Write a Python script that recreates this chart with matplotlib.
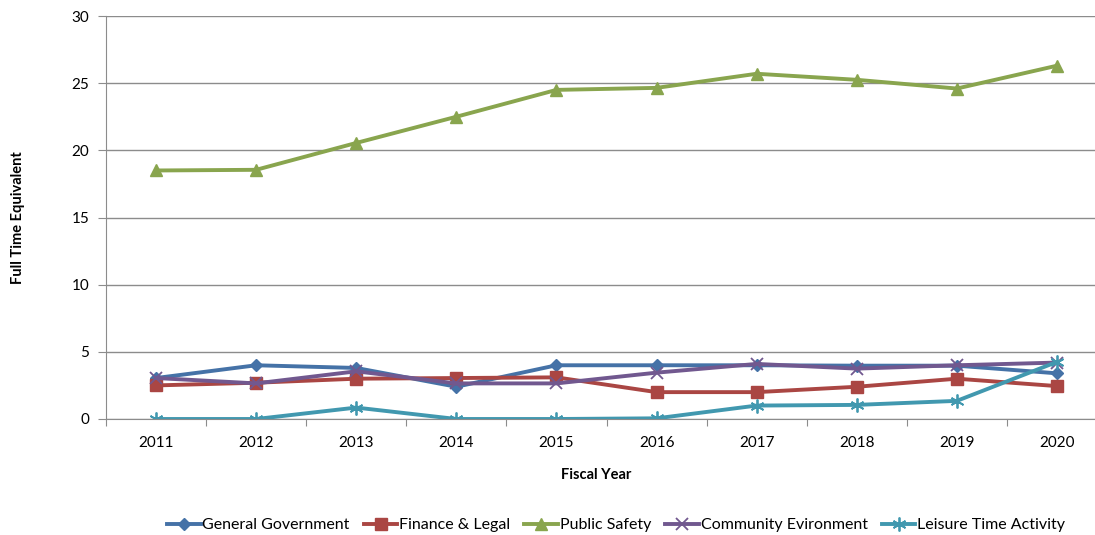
import numpy as np
import matplotlib.pyplot as plt

years = ['2011', '2012', '2013', '2014', '2015', '2016', '2017', '2018', '2019', '2020']
general_gov = [3.05, 4.0, 3.8, 2.4, 4.0, 4.0, 4.0, 3.97, 3.97, 3.4]
finance_legal = [2.5, 2.7, 3.0, 3.05, 3.1, 2.0, 2.0, 2.4, 3.0, 2.45]
public_safety = [18.5, 18.55, 20.55, 22.5, 24.5, 24.65, 25.7, 25.25, 24.6, 26.3]
community_env = [3.05, 2.65, 3.55, 2.65, 2.65, 3.45, 4.1, 3.75, 4.0, 4.2]
leisure_time = [0.0, 0.0, 0.85, 0.0, 0.0, 0.05, 1.0, 1.05, 1.35, 4.25]

plt.rcParams['font.family'] = ['Lato', 'DejaVu Sans']

fig = plt.figure(figsize=(10.95, 5.35), dpi=100)
ax = fig.add_axes([106 / 1095, 1 - 419 / 535, 1001 / 1095, 403 / 535])

x = np.arange(len(years))
lw = 2.8
ax.plot(x, general_gov, color='#4572A7', lw=lw, marker='D', ms=6.5, label='General Government')
ax.plot(x, finance_legal, color='#AA4643', lw=lw, marker='s', ms=8, label='Finance & Legal')
ax.plot(x, public_safety, color='#89A54E', lw=lw, marker='^', ms=9, label='Public Safety')
ax.plot(x, community_env, color='#71588F', lw=lw, marker='x', ms=8, mew=1.3, label='Community Evironment')
ax.plot(x, leisure_time, color='#4198AF', lw=lw, marker=(6, 2, 0), ms=10, mew=1.3, label='Leisure Time Activity')

ax.set_xlim(-0.5, 9.5)
ax.set_ylim(0, 30)
ax.set_yticks(range(0, 31, 5))
ax.yaxis.grid(True, color='#8c8c8c', lw=1)
ax.set_axisbelow(True)

ax.set_xticks(np.arange(-0.5, 10, 1))
ax.set_xticklabels([])
ax.set_xticks(x, minor=True)
ax.set_xticklabels(years, minor=True)
ax.tick_params(axis='x', which='major', length=5, color='#8c8c8c', direction='out')
ax.tick_params(axis='x', which='minor', length=0, pad=12, labelsize=11)
ax.tick_params(axis='y', length=6, color='#8c8c8c', labelsize=11, pad=6)

for s in ['top', 'right']:
    ax.spines[s].set_visible(False)
for s in ['left', 'bottom']:
    ax.spines[s].set_color('#8c8c8c')

fig.text(18 / 1095, 1 - 218 / 535, 'Full Time Equivalent', rotation=90, ha='center', va='center',
         fontsize=10.5, fontweight='bold')
fig.text(596 / 1095, 1 - 475 / 535, 'Fiscal Year', ha='center', va='center', fontsize=10.5, fontweight='bold')

fig.legend(loc='center', bbox_to_anchor=(616 / 1095, 1 - 525 / 535), ncol=5, frameon=False,
           fontsize=11.5, handlelength=2.1, handletextpad=0.1, columnspacing=0.9)

fig.savefig('out.png', dpi=100)
